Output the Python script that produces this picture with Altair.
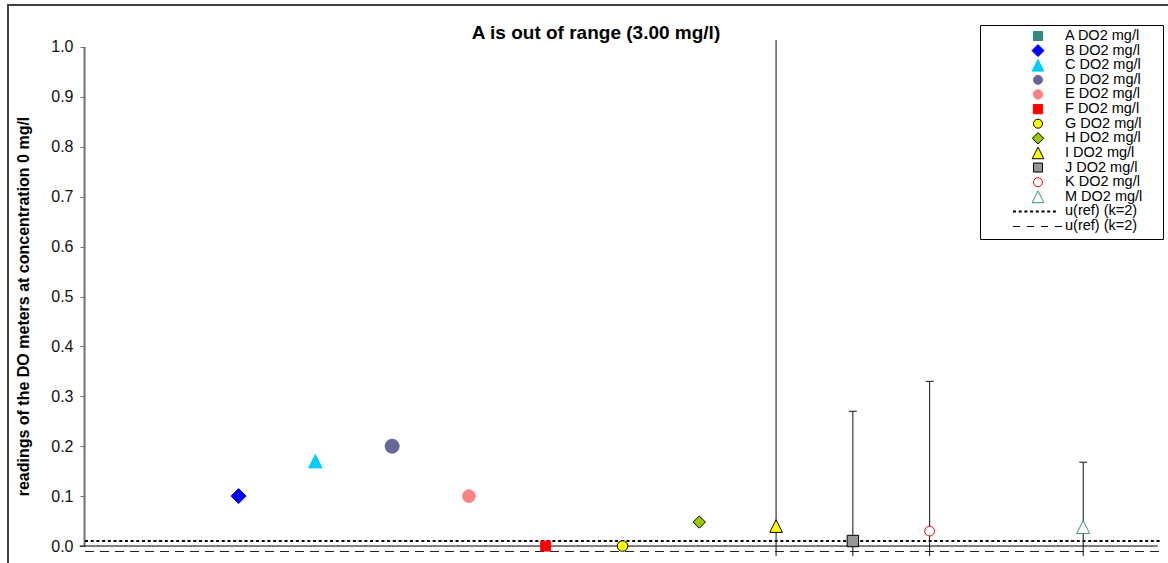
import altair as alt
import pandas as pd

# Readings of the DO meters at a concentration of 0 mg/l.
# Meter A is out of range, so it only appears in the legend.
series = ["A", "B", "C", "D", "E", "F", "G", "H", "I", "J", "K", "M"]
slots = [1, 2, 3, 4, 5, 6, 7, 8, 9, 10, 11, 13]
readings = [None, 0.10, 0.17, 0.20, 0.10, 0.00, 0.00, 0.048, 0.04, 0.01, 0.03, 0.038]

# Expanded uncertainties reported by some meters
unc_series = ["I", "J", "K", "M"]
unc_values = [1.00, 0.26, 0.30, 0.13]

# Reference uncertainty band (k=2)
u_ref = 0.01

# Marker styles, one per meter
TRI = "M0,-1L1,1L-1,1Z"
shapes = ["square", "diamond", TRI, "circle", "circle", "square",
          "circle", "diamond", TRI, "square", "circle", TRI]
fills = ["#2e8b7c", "#0000ff", "#00ccff", "#666699", "#ff8080", "#ff0000",
         "#ffff00", "#99cc00", "#ffff00", "#969696", "#ffffff", "#ffffff"]
strokes = ["#2e8b7c", "#0000ff", "#00ccff", "#666699", "#ff8080", "#ff0000",
           "#000000", "#000000", "#000000", "#000000", "#ff0000", "#339966"]
plot_sizes = [100, 225, 180, 196, 160, 100, 110, 150, 160, 130, 95, 170]
legend_sizes = [81, 144, 137, 81, 87, 87, 81, 130, 135, 81, 81, 140]

FONT = "Liberation Sans"
W, H = 1075, 516

XS = alt.Scale(domain=[0, 14], nice=False, zero=False)
YS = alt.Scale(domain=[-0.02, 1.014], nice=False, zero=False)


def X(field):
    return alt.X(field, type="quantitative", scale=XS, axis=None)


def Y(field, axis=None):
    return alt.Y(field, type="quantitative", scale=YS, axis=axis)


pos = dict(zip(series, slots))
style = pd.DataFrame({"series": series, "slot": slots, "value": readings,
                      "shape": shapes, "fill": fills, "stroke": strokes,
                      "size": plot_sizes, "lsize": legend_sizes})
points = style.dropna(subset=["value"])

errs = pd.DataFrame({"series": unc_series,
                     "slot": [pos[s] for s in unc_series],
                     "value": [readings[series.index(s)] for s in unc_series],
                     "u": unc_values})

one = pd.DataFrame({"k": [0]})

# Outer chart frame
frame = alt.Chart(one).mark_rect(fillOpacity=0, stroke="#404040", strokeWidth=2).encode(
    x=alt.value(-77), y=alt.value(-35), x2=alt.value(1200), y2=alt.value(700))

# Y axis line and ticks
yaxis = alt.Chart(pd.DataFrame({"lo": [0.0], "hi": [1.0]})).mark_rule(
    color="#707070", strokeWidth=2).encode(
    x=alt.value(-0.5),
    y=Y("lo", axis=alt.Axis(
        values=[round(v * 0.1, 1) for v in range(11)], format=".1f",
        domain=False, grid=False, tickSize=5, tickColor="#707070",
        labelFontSize=16, labelFont=FONT, labelColor="#111", labelPadding=7,
        title="readings of the DO meters at concentration 0 mg/l",
        titleFont=FONT, titleFontSize=16, titleFontWeight="bold", titleColor="#000",
        titleAngle=270, titleAlign="center", titleBaseline="middle",
        titleX=-62, titleY=266)),
    y2="hi:Q")

# X axis line at zero
xaxis = alt.Chart(pd.DataFrame({"a": [-0.07], "b": [13.97], "y": [0.0]})).mark_rule(
    color="#000", strokeWidth=1).encode(x=X("a"), x2="b:Q", y=Y("y"))

refs = pd.DataFrame({"a": [0.0], "b": [14.0], "up": [u_ref], "down": [-u_ref]})
dotted = alt.Chart(refs).mark_rule(color="#000", strokeWidth=2, strokeDash=[3, 2.7]).encode(
    x=X("a"), x2="b:Q", y=Y("up"))
dashed = alt.Chart(refs).mark_rule(color="#222", strokeWidth=1, strokeDash=[9, 6],
                                   yOffset=0.5).encode(
    x=X("a"), x2="b:Q", y=Y("down"))

# Error bars with caps
eb = alt.Chart(errs).transform_calculate(
    lo="datum.value - datum.u", hi="datum.value + datum.u",
    cl="datum.slot - 0.052", cr="datum.slot + 0.052")
ebar = eb.mark_rule(color="#111", strokeWidth=1, clip=True).encode(
    x=X("slot"), y=Y("lo"), y2="hi:Q")
cap_hi = eb.mark_rule(color="#111", strokeWidth=1, clip=True).encode(
    x=X("cl"), x2="cr:Q", y=Y("hi"))
cap_lo = eb.mark_rule(color="#111", strokeWidth=1, clip=True).encode(
    x=X("cl"), x2="cr:Q", y=Y("lo"))

pts = alt.Chart(points).mark_point(opacity=1, strokeWidth=1).encode(
    x=X("slot"), y=Y("value"),
    shape=alt.Shape("shape:N", scale=None),
    fill=alt.Fill("fill:N", scale=None),
    stroke=alt.Stroke("stroke:N", scale=None),
    size=alt.Size("size:Q", scale=None))

title = alt.Chart(one).mark_text(
    text="A is out of range (3.00 mg/l)", font=FONT, fontSize=19, fontWeight="bold",
    align="center", baseline="alphabetic", color="#000").encode(
    x=alt.value(511), y=alt.value(-1.5))

# Legend, one row per entry
leg = style.assign(row=range(len(series)), label=[f"{s} DO2 mg/l" for s in series])
leg_lines = pd.DataFrame({"row": [12, 13], "label": ["u(ref) (k=2)", "u(ref) (k=2)"]})
LY = alt.Scale(domain=[0, 13], range=[-4, 186])

leg_box = alt.Chart(one).mark_rect(fill="#fff", stroke="#000", strokeWidth=1).encode(
    x=alt.value(895.5), x2=alt.value(1078.5), y=alt.value(-14.5), y2=alt.value(199.5))
leg_sym = alt.Chart(leg).mark_point(opacity=1, strokeWidth=1).encode(
    x=alt.value(953), y=alt.Y("row:Q", scale=LY, axis=None),
    shape=alt.Shape("shape:N", scale=None),
    fill=alt.Fill("fill:N", scale=None),
    stroke=alt.Stroke("stroke:N", scale=None),
    size=alt.Size("lsize:Q", scale=None))
leg_txt = alt.Chart(pd.concat([leg[["row", "label"]], leg_lines])).mark_text(
    font=FONT, fontSize=14.5, align="left", baseline="middle", color="#000").encode(
    x=alt.value(980), y=alt.Y("row:Q", scale=LY, axis=None), text="label:N")
leg_dot = alt.Chart(leg_lines[leg_lines.row == 12]).mark_rule(
    color="#000", strokeWidth=2, strokeDash=[3, 2.7]).encode(
    x=alt.value(928), x2=alt.value(972), y=alt.Y("row:Q", scale=LY, axis=None))
leg_dash = alt.Chart(leg_lines[leg_lines.row == 13]).mark_rule(
    color="#000", strokeWidth=1, strokeDash=[7, 7], yOffset=0.5).encode(
    x=alt.value(928), x2=alt.value(978), y=alt.Y("row:Q", scale=LY, axis=None))

chart = alt.layer(
    frame, yaxis, dotted, dashed, xaxis, ebar, cap_hi, cap_lo, pts, title,
    leg_box, leg_sym, leg_txt, leg_dot, leg_dash
).resolve_scale(x="independent", y="independent").properties(
    width=W, height=H,
    autosize=alt.AutoSizeParams(type="none"),
    padding={"left": 85, "top": 40, "right": 8, "bottom": 7},
    background="#ffffff",
).configure_view(stroke=None)

chart.save("out.html", embed_options={"renderer": "svg", "actions": False})
